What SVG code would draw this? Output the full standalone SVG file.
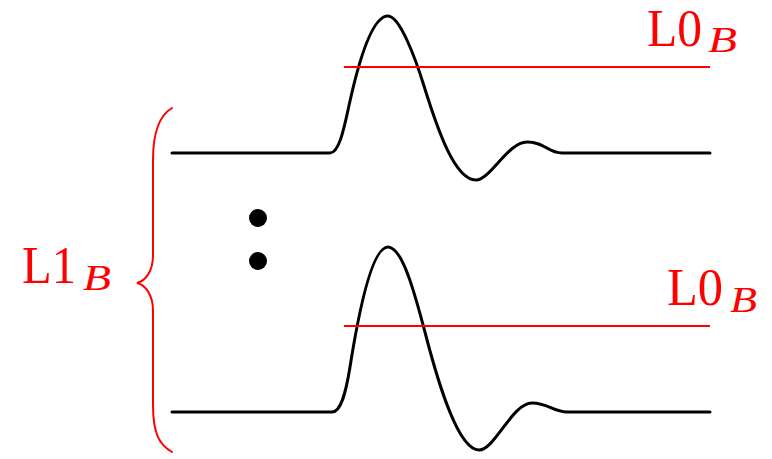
<svg xmlns="http://www.w3.org/2000/svg" width="772" height="459" viewBox="0 0 772 459">
<style>
.wave{fill:none;stroke:#000;stroke-width:3;stroke-linejoin:round;stroke-linecap:round}
.lvl{fill:none;stroke:#ff0000;stroke-width:2}
.brace{fill:none;stroke:#ff0000;stroke-width:2;stroke-linecap:round}
.lab{font-family:'Liberation Serif','Times New Roman',serif;fill:#ff0000;font-size:52px}
.sub{font-family:'Liberation Serif','Times New Roman',serif;fill:#ff0000;font-size:35px;font-style:italic}
</style>
<rect width="772" height="459" fill="#fff"/>
<g id="wave-top">
<path class="wave" d="M172,153 H330 C340,153 345,123 350,101 Q369,16 388,16 C400,16 416,60 424,86 C438,131 455,180 476,180 C490,180 508,142 527,142 C545,142 548,153 562,153 H710"/>
</g>
<g id="level-top">
<line class="lvl" x1="344" y1="67" x2="710" y2="67"/>
<text class="lab" x="647" y="46" textLength="55" lengthAdjust="spacingAndGlyphs">L0</text>
<text class="sub" x="708" y="52" textLength="29" lengthAdjust="spacingAndGlyphs">B</text>
</g>
<g id="wave-bottom">
<path class="wave" d="M172,412 H332 C341,412 346,392 350,367 Q369,247 388,247 C402,247 414,290 426,336 C438,382 458,450 479,450 C495,450 512,403 532,403 C548,403 553,412 567,412 H710"/>
</g>
<g id="level-bottom">
<line class="lvl" x1="344" y1="326" x2="710" y2="326"/>
<text class="lab" x="667" y="305" textLength="56" lengthAdjust="spacingAndGlyphs">L0</text>
<text class="sub" x="730" y="312" textLength="27" lengthAdjust="spacingAndGlyphs">B</text>
</g>
<g id="dots">
<circle cx="258" cy="218" r="9" fill="#000"/>
<circle cx="258" cy="261" r="9" fill="#000"/>
</g>
<g id="brace-group">
<path class="brace" d="M172,108 C160,115 153,130 153,160 L153,255 C153,272 145,281 137,283 C145,285 153,294 153,311 L153,405 C153,435 160,445 172,452"/>
<text class="lab" x="22" y="283" textLength="54" lengthAdjust="spacingAndGlyphs">L1</text>
<text class="sub" x="83" y="290" textLength="28" lengthAdjust="spacingAndGlyphs">B</text>
</g>
</svg>
